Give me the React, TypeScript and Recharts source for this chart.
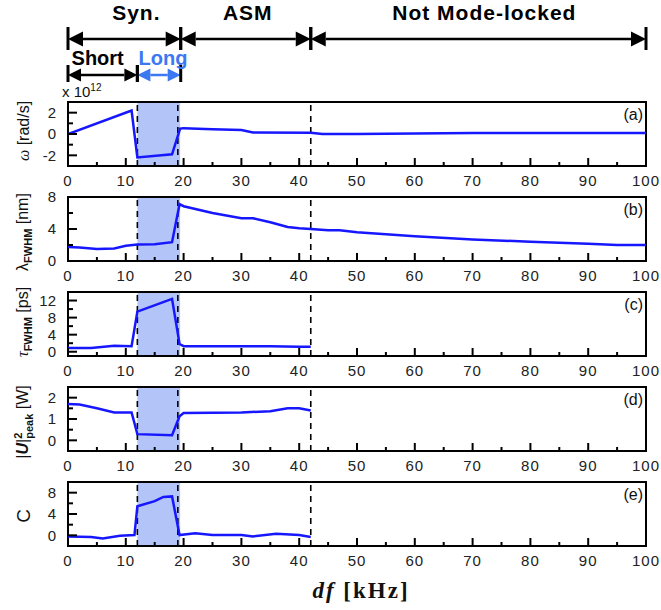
import React from 'react';
import { LineChart, Line, XAxis, YAxis, ReferenceLine, ReferenceArea } from 'recharts';

// df axis ticks (kHz), labels only every 10
const X_TICKS = [0, 5, 10, 15, 20, 25, 30, 35, 40, 45, 50, 55, 60, 65, 70, 75, 80, 85, 90, 95, 100];

// regime boundaries
const SYN_DIVIDERS = [12, 19, 42];
const LONG_BAND = [12, 19.4];
const REGIMES = ['Syn.', 'ASM', 'Not Mode-locked'];
const REGIME_EDGES = [0, 19.5, 42, 100];
const SYN_PHASES = ['Short', 'Long'];
const SYN_EDGES = [0, 12, 19.5];

// (a) omega, x10^12 rad/s
const DF_A = [0, 11, 12, 18, 19.4, 20, 25, 30, 32, 42, 44, 50, 60, 70, 80, 90, 100];
const OMEGA = [0, 2.2, -2.2, -1.9, 0.5, 0.55, 0.45, 0.38, 0.15, 0.12, 0, 0, 0.05, 0.1, 0.1, 0.1, 0.1];

// (b) spectral width, nm
const DF_B = [0, 2, 5, 8, 10, 12, 15, 18, 19.3, 20, 25, 30, 32, 35, 38, 40, 42, 45, 47, 50, 60, 70, 80, 90, 95, 100];
const LAMBDA = [1.75, 1.7, 1.5, 1.57, 1.9, 2.05, 2.1, 2.35, 7.1, 6.85, 6.0, 5.35, 5.35, 4.85, 4.25, 4.1, 4.0, 3.85, 3.85, 3.6, 3.1, 2.7, 2.4, 2.15, 2.0, 2.0];

// (c) pulse width, ps
const DF_C = [0, 4, 8, 11, 12, 18, 19.3, 20, 30, 35, 40, 42];
const TAU = [0.9, 0.9, 1.4, 1.3, 9.4, 12.4, 1.8, 1.3, 1.3, 1.3, 1.15, 1.15];

// (d) peak power, W
const DF_D = [0, 2, 5, 8, 11, 12, 18, 19.3, 20, 30, 35, 38, 40, 42];
const POWER = [1.7, 1.68, 1.5, 1.31, 1.31, 0.29, 0.24, 1.13, 1.28, 1.31, 1.36, 1.5, 1.5, 1.4];

// (e) chirp
const DF_E = [0, 4, 6, 9, 11.5, 12, 15, 16.5, 18, 19.3, 22, 25, 30, 32, 36, 40, 42];
const CHIRP = [-0.2, -0.33, -0.6, -0.1, 0.05, 5.45, 6.4, 7.2, 7.3, 0.05, 0.4, 0.05, 0.05, -0.2, 0.3, 0.05, -0.3];

const FONT = '"Liberation Sans", Arial, sans-serif';
const BLUE = '#1717ff';
const PANEL_TOPS = [102, 197, 292, 387, 482];
const PAD_TOP = 12;

const sub = { fontSize: 11, fontWeight: 'bold' as const };

const PANELS = [
  {
    tag: '(a)', x: DF_A, y: OMEGA, domain: [-3, 3], ticks: [-2, -1, 0, 1, 2], majors: [-2, 0, 2], cy: 131,
    label: <span><span style={{ fontFamily: '"Liberation Serif", serif', fontStyle: 'italic' }}>ω</span> [rad/s]</span>,
  },
  {
    tag: '(b)', x: DF_B, y: LAMBDA, domain: [0, 8], ticks: [0, 2, 4, 6, 8], majors: [0, 4, 8], cy: 232,
    label: <span>λ<sub style={sub}>FWHM</sub> [nm]</span>,
  },
  {
    tag: '(c)', x: DF_C, y: TAU, domain: [-1, 14], ticks: [0, 2, 4, 6, 8, 10, 12], majors: [0, 4, 8, 12], cy: 322,
    label: <span><span style={{ fontFamily: '"Liberation Serif", serif', fontStyle: 'italic' }}>τ</span><sub style={sub}>FWHM</sub> [ps]</span>,
  },
  {
    tag: '(d)', x: DF_D, y: POWER, domain: [-0.5, 2.5], ticks: [0, 0.5, 1, 1.5, 2], majors: [0, 1, 2], cy: 422,
    label: (
      <span>
        |<i style={{ fontWeight: 'bold' }}>U</i>|
        <span style={{ display: 'inline-flex', flexDirection: 'column', verticalAlign: 'middle', lineHeight: 1, fontSize: 11, fontWeight: 'bold' }}>
          <span>2</span>
          <span>peak</span>
        </span>{' '}[W]
      </span>
    ),
  },
  {
    tag: '(e)', x: DF_E, y: CHIRP, domain: [-2, 10], ticks: [0, 2, 4, 6, 8], majors: [0, 4, 8], cy: 516,
    label: <span style={{ fontSize: 19 }}>C</span>,
  },
];

function XTick({ x, y, payload }: any) {
  const v = payload.value;
  const major = v % 10 === 0;
  return (
    <g>
      <line x1={x} x2={x} y1={y} y2={y - (major ? 8 : 4)} stroke="#000" strokeWidth={2} />
      {major && (
        <text x={x} y={y + 20} textAnchor="middle" fontSize={15} fill="#222" fontFamily={FONT} letterSpacing={1}>
          {v}
        </text>
      )}
    </g>
  );
}

function YTick({ x, y, payload, majors }: any) {
  const major = majors.includes(payload.value);
  return (
    <g>
      <line x1={x} x2={x + (major ? 9 : 5)} y1={y} y2={y} stroke="#000" strokeWidth={2} />
      {major && (
        <text x={x - 12} y={y} dy="0.36em" textAnchor="end" fontSize={15} fill="#222" fontFamily={FONT}>
          {payload.value}
        </text>
      )}
    </g>
  );
}

function Panel({ p, top }: any) {
  const data = p.x.map((d: number, i: number) => ({ df: d, v: p.y[i] }));
  return (
    <div style={{ position: 'absolute', left: 0, top: top - PAD_TOP }}>
      <LineChart width={661} height={64 + 26 + PAD_TOP} data={data} margin={{ top: PAD_TOP, right: 15, bottom: 0, left: 0 }}>
        <ReferenceArea x1={LONG_BAND[0]} x2={LONG_BAND[1]} fill="#b2c4f8" fillOpacity={1} stroke="none" />
        <XAxis
          dataKey="df" type="number" domain={[0, 100]} ticks={X_TICKS} interval={0}
          tickSize={0} tickMargin={0} tickLine={false} axisLine={false} height={26}
          tick={(t: any) => <XTick {...t} />} allowDataOverflow
        />
        <YAxis
          type="number" domain={p.domain} ticks={p.ticks} interval={0}
          tickSize={0} tickMargin={0} tickLine={false} axisLine={false} width={68}
          tick={(t: any) => <YTick {...t} majors={p.majors} />} allowDataOverflow
        />
        {SYN_DIVIDERS.map((d) => (
          <ReferenceLine key={d} x={d} stroke="#000" strokeWidth={1.6} strokeDasharray="6 5" />
        ))}
        <Line dataKey="v" type="linear" stroke={BLUE} strokeWidth={2.5} dot={false} isAnimationActive={false} />
        <ReferenceArea x1={0} x2={100} fill="none" stroke="#000" strokeWidth={2} />
      </LineChart>
    </div>
  );
}

function Span({ x1, x2, y1, text, color, textColor, size, head, half, barUp, barDown, dx, dy }: any) {
  const y = y1;
  return (
    <g>
      <line x1={x1 + head} x2={x2 - head} y1={y} y2={y} stroke={color} strokeWidth={2.5} />
      <polygon points={`${x1},${y} ${x1 + head},${y - half} ${x1 + head},${y + half}`} fill={color} />
      <polygon points={`${x2},${y} ${x2 - head},${y - half} ${x2 - head},${y + half}`} fill={color} />
      <line x1={x1} x2={x1} y1={y - barUp} y2={y + barDown} stroke="#000" strokeWidth={3} />
      <line x1={x2} x2={x2} y1={y - barUp} y2={y + barDown} stroke="#000" strokeWidth={3} />
      <text
        x={(x1 + x2) / 2 + dx} y={y + dy} textAnchor="middle" fontSize={size} fontWeight="bold"
        fill={textColor} fontFamily={FONT} letterSpacing={size > 20 ? 1 : 0}
      >
        {text}
      </text>
    </g>
  );
}

const REGIME_DX = [12, 2, 6];
const PHASE_DX = [-5, 4];
const PHASE_COLORS = ['#000', '#3b78f2'];
// rows of the annotation strip, in strip units (bottom-up)
const ROW_MAIN = 56;
const ROW_SUB = 20;

function Regimes() {
  const frame = [{ df: 0, v: 0 }, { df: 100, v: 95 }];
  return (
    <div style={{ position: 'absolute', left: 0, top: 0 }}>
      <LineChart width={661} height={95} data={frame} margin={{ top: 0, right: 15, bottom: 0, left: 68 }}>
        <XAxis dataKey="df" type="number" domain={[0, 100]} height={0} tick={false} tickLine={false} axisLine={false} />
        <YAxis type="number" domain={[0, 95]} width={0} tick={false} tickLine={false} axisLine={false} />
        <Line dataKey="v" stroke="none" dot={false} isAnimationActive={false} />
        {REGIMES.map((name, i) => (
          <ReferenceLine
            key={name}
            segment={[{ x: REGIME_EDGES[i], y: ROW_MAIN }, { x: REGIME_EDGES[i + 1], y: ROW_MAIN }]}
            ifOverflow="visible"
            shape={(s: any) => (
              <Span {...s} text={name} color="#000" textColor="#000" size={21} head={15} half={7.5}
                barUp={12} barDown={11} dx={REGIME_DX[i]} dy={-19} />
            )}
          />
        ))}
        {SYN_PHASES.map((name, i) => (
          <ReferenceLine
            key={name}
            segment={[{ x: SYN_EDGES[i], y: ROW_SUB }, { x: SYN_EDGES[i + 1], y: ROW_SUB }]}
            ifOverflow="visible"
            shape={(s: any) => (
              <Span {...s} text={name} color={PHASE_COLORS[i]} textColor={PHASE_COLORS[i]} size={20} head={13}
                half={6.5} barUp={10} barDown={7} dx={PHASE_DX[i]} dy={-10} />
            )}
          />
        ))}
      </LineChart>
    </div>
  );
}

export default function App() {
  return (
    <div style={{ position: 'absolute', left: 0, top: 0, width: 661, height: 610, background: '#fff', fontFamily: FONT, color: '#111' }}>
      <Regimes />
      <div style={{ position: 'absolute', left: 62, top: 82, fontSize: 15, whiteSpace: 'nowrap' }}>
        x 10<sup style={{ fontSize: 10 }}>12</sup>
      </div>
      {PANELS.map((p, i) => (
        <React.Fragment key={p.tag}>
          <Panel p={p} top={PANEL_TOPS[i]} />
          <div style={{ position: 'absolute', right: 18, top: PANEL_TOPS[i] + 4, fontSize: 16, lineHeight: '18px' }}>{p.tag}</div>
          <div
            style={{
              position: 'absolute', left: 24, top: p.cy, fontSize: 16, whiteSpace: 'nowrap',
              transform: 'translate(-50%, -50%) rotate(-90deg)',
            }}
          >
            {p.label}
          </div>
        </React.Fragment>
      ))}
      <div
        style={{
          position: 'absolute', left: 261, top: 578, width: 200, textAlign: 'center', fontSize: 23,
          fontFamily: '"Liberation Serif", "Times New Roman", serif', fontWeight: 'bold', letterSpacing: 2,
        }}
      >
        <i>df</i> [kHz]
      </div>
    </div>
  );
}
